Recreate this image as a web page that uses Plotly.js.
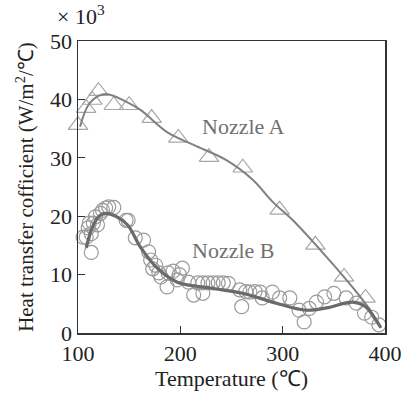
<!DOCTYPE html>
<html>
<head>
<meta charset="utf-8">
<script src="https://cdn.plot.ly/plotly-3.0.1.min.js"></script>
<style>html,body{margin:0;padding:0;background:#fff;}#chart{width:406px;height:396px;}</style>
</head>
<body>
<div id="chart"></div>
<script>
// Nozzle A measured points (triangles), x in ℃, y in 10^3 W/m2/℃
const nozzleA_T = [100, 108, 114, 120, 135, 150, 172, 198, 228, 261, 297, 332, 360, 381, 397];
const nozzleA_h = [35.6, 38.5, 39.9, 41.4, 39.0, 39.0, 36.8, 33.4, 30.1, 28.3, 21.1, 15.1, 9.6, 6.0, -0.3];
// Nozzle A fitted curve
const fitA_T = [102, 110, 120, 129, 145, 161, 187, 213, 245, 271, 290, 310, 343, 368, 384, 396];
const fitA_h = [35.3, 39.0, 40.6, 40.9, 39.8, 38.2, 34.4, 32.2, 29.6, 26.2, 22.5, 19.3, 13.0, 7.9, 4.3, 0.9];
// Nozzle B measured points (circles)
const nozzleB_T = [105, 108, 110, 111, 113, 113, 115, 117, 119, 122, 124, 127, 130, 135, 147, 149, 156, 164, 169, 171, 176, 173, 179, 181, 187, 188, 193, 197, 199, 202, 208, 213, 217, 222, 222, 227, 232, 237, 242, 247, 258, 260, 264, 268, 273, 278, 280, 290, 297, 307, 316, 321, 326, 333, 341, 350, 362, 372, 380, 387, 394];
const nozzleB_h = [16.4, 16.4, 18.0, 18.8, 13.8, 17.0, 18.8, 19.9, 18.5, 20.5, 21.0, 21.4, 21.6, 21.5, 19.3, 19.3, 16.3, 15.9, 13.9, 12.5, 11.6, 11.0, 10.3, 9.6, 7.9, 10.3, 10.6, 9.1, 10.0, 11.1, 8.7, 6.5, 8.6, 6.8, 8.6, 8.6, 8.6, 8.6, 8.6, 8.5, 7.4, 4.5, 7.1, 7.0, 7.1, 7.0, 6.0, 7.0, 6.0, 6.0, 3.9, 1.9, 4.2, 5.3, 6.2, 6.8, 6.0, 5.1, 3.4, 2.7, 1.4];
// Nozzle B fitted curve
const fitB_T = [108, 115, 122, 127, 137, 148.5, 161, 177.5, 197, 229, 261, 294, 323, 343, 368, 381, 390, 396];
const fitB_h = [14.6, 18.5, 20.2, 20.5, 20.0, 18.5, 14.7, 11.1, 8.7, 7.7, 6.8, 5.1, 3.9, 4.3, 5.3, 4.5, 2.5, 0.9];

const xTicks = [100, 200, 300, 400];
const yTicks = [0, 10, 20, 30, 40, 50];

const serif = "Liberation Serif, Times New Roman, serif";

const traces = [
  {x: nozzleB_T, y: nozzleB_h, mode: 'markers', type: 'scatter', cliponaxis: false,
   marker: {symbol: 'circle-open', size: 14, color: '#9a9a9a', line: {width: 1.2, color: '#9a9a9a'}}},
  {x: nozzleA_T, y: nozzleA_h, mode: 'markers', type: 'scatter', cliponaxis: false,
   marker: {symbol: 'triangle-up-open', size: 17, color: '#a8a8a8', line: {width: 1.2, color: '#a8a8a8'}}},
  {x: fitA_T, y: fitA_h, mode: 'lines', type: 'scatter', cliponaxis: false,
   line: {shape: 'spline', color: '#808080', width: 2}},
  {x: fitB_T, y: fitB_h, mode: 'lines', type: 'scatter', cliponaxis: false,
   line: {shape: 'spline', color: '#6a6a6a', width: 3.2}}
];

const layout = {
  width: 406, height: 396,
  margin: {l: 78, r: 21, t: 41, b: 63},
  paper_bgcolor: '#fff', plot_bgcolor: '#fff',
  showlegend: false,
  font: {family: serif, size: 17, color: '#222'},
  xaxis: {
    range: [100, 400], tickvals: xTicks, ticktext: xTicks.map(String),
    ticks: 'inside', ticklen: 7, tickcolor: '#333', tickwidth: 1,
    showline: true, linecolor: '#333', linewidth: 1.5, mirror: true,
    showgrid: false, zeroline: false, automargin: false,
    tickfont: {family: serif, size: 22, color: '#222'},
    title: {text: 'Temperature (℃)', font: {family: serif, size: 22, color: '#222'}, standoff: 4}
  },
  yaxis: {
    range: [0, 50], tickvals: yTicks, ticktext: yTicks.map(String),
    ticks: 'inside', ticklen: 7, tickcolor: '#333', tickwidth: 1,
    showline: true, linecolor: '#333', linewidth: 1.5, mirror: true,
    showgrid: false, zeroline: false, automargin: false,
    tickfont: {family: serif, size: 22, color: '#222'},
    title: {text: 'Heat transfer cofficient (W/m<sup>2</sup>/℃)', font: {family: serif, size: 21, color: '#222'}, standoff: 10}
  },
  annotations: [
    {xref: 'paper', yref: 'paper', x: -0.075, y: 1.0, xanchor: 'left', yanchor: 'bottom', yshift: 10,
     text: '× 10<sup>3</sup>', showarrow: false, font: {family: serif, size: 22, color: '#222'}},
    {xref: 'x', yref: 'y', x: 262, y: 35.4, text: 'Nozzle A', showarrow: false,
     font: {family: serif, size: 22, color: '#707070'}},
    {xref: 'x', yref: 'y', x: 251, y: 14.2, text: 'Nozzle B', showarrow: false,
     font: {family: serif, size: 22, color: '#707070'}}
  ]
};

Plotly.newPlot('chart', traces, layout, {displayModeBar: false, staticPlot: true});
</script>
</body>
</html>
